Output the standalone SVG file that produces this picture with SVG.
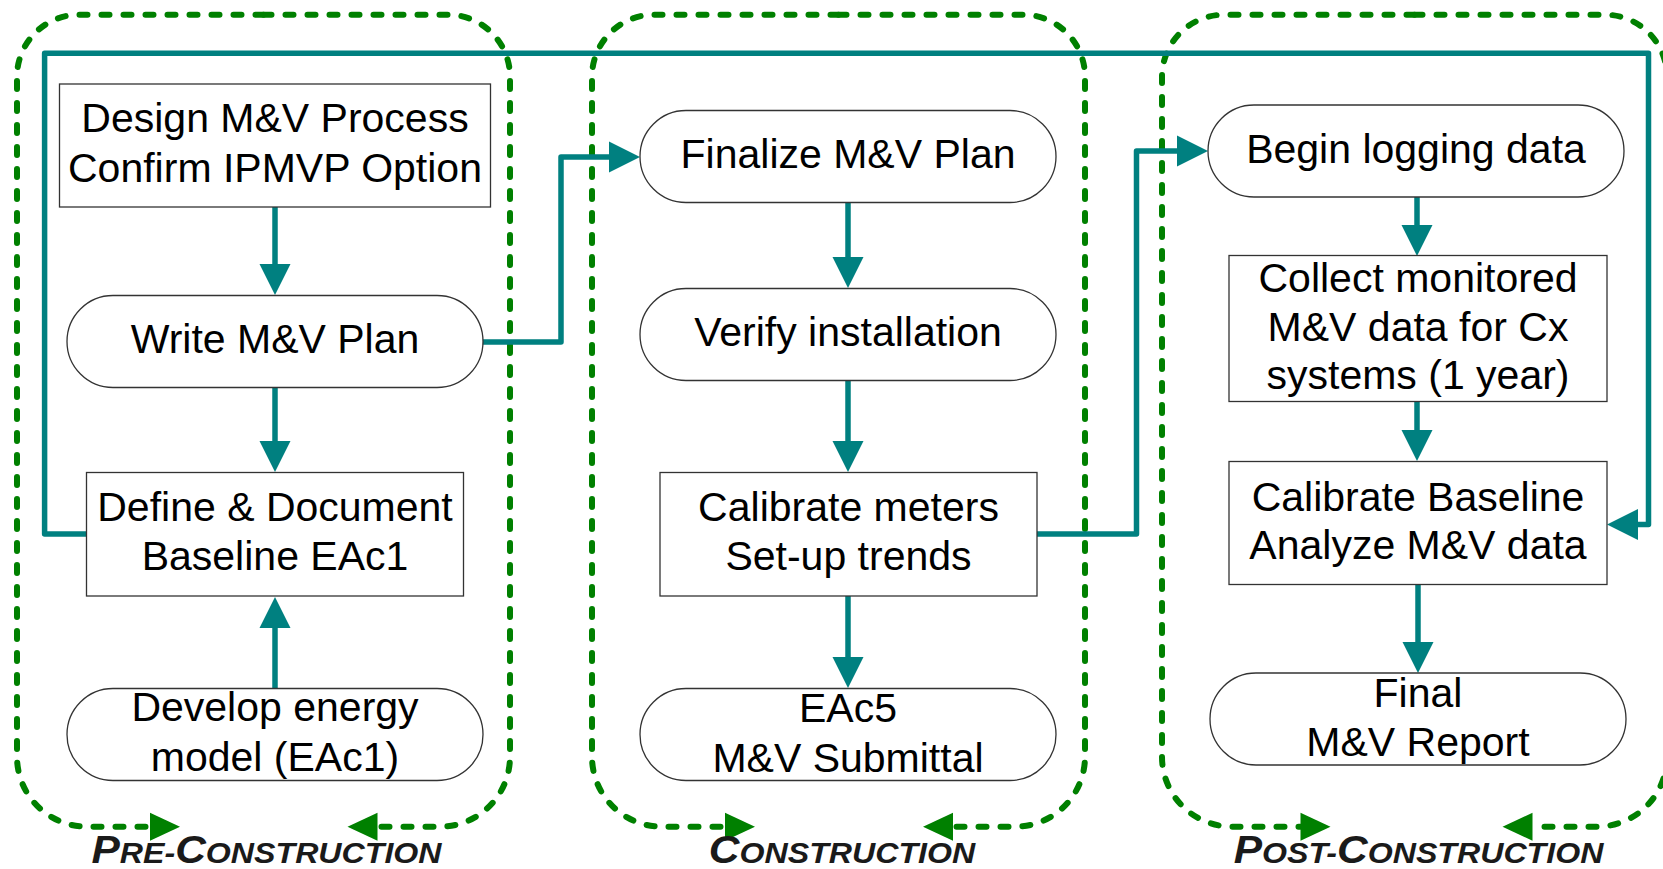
<svg xmlns="http://www.w3.org/2000/svg" width="1663" height="869" viewBox="0 0 1663 869">
<style>
.grp{fill:none;stroke:#008000;stroke-width:6;stroke-dasharray:8 14;stroke-linecap:round}
.con{fill:none;stroke:#008080;stroke-width:5.5;stroke-linejoin:round;stroke-linecap:round;marker-end:url(#ta)}
.box{fill:#fff;stroke:#333;stroke-width:1.3}
.t{font-family:"Liberation Sans",Arial,sans-serif;font-size:41px;fill:#000;text-anchor:middle}
.lbl{font-family:"Liberation Sans",Arial,sans-serif;font-weight:bold;font-style:italic;font-size:29.5px;fill:#1a1a1a;text-anchor:middle}
.big{font-size:39px}
</style>
<defs>
<marker id="ta" markerUnits="userSpaceOnUse" markerWidth="32" markerHeight="32" refX="0" refY="16" orient="auto" overflow="visible">
<path d="M0,0.5 L31,16 L0,31.5 z" fill="#008080"/>
</marker>
<marker id="ga" markerUnits="userSpaceOnUse" markerWidth="31" markerHeight="30" refX="0" refY="15" orient="auto" overflow="visible">
<path d="M0,1 L30,15 L0,29 z" fill="#008000"/>
</marker>
</defs>

<g id="phases">
<g id="pre-construction">
<path class="grp" marker-end="url(#ga)" d="M263.5,14.7 H79 A62,62 0 0 0 17,76.7 V756.7 A70,70 0 0 0 87,826.7 H150"/>
<path class="grp" marker-end="url(#ga)" d="M263.5,14.7 H448 A62,62 0 0 1 510,76.7 V756.7 A70,70 0 0 1 440,826.7 H377.5"/>
<text class="lbl" transform="translate(266.5,862.7) scale(1.09,1)"><tspan class="big">P</tspan>RE-<tspan class="big">C</tspan>ONSTRUCTION</text>
</g>
<g id="construction">
<path class="grp" marker-end="url(#ga)" d="M838.5,14.7 H654 A62,62 0 0 0 592,76.7 V756.7 A70,70 0 0 0 662,826.7 H725"/>
<path class="grp" marker-end="url(#ga)" d="M838.5,14.7 H1023 A62,62 0 0 1 1085,76.7 V756.7 A70,70 0 0 1 1015,826.7 H953"/>
<text class="lbl" transform="translate(842,862.7) scale(1.09,1)"><tspan class="big">C</tspan>ONSTRUCTION</text>
</g>
<g id="post-construction">
<path class="grp" marker-end="url(#ga)" d="M1414.5,14.7 H1224 A62,62 0 0 0 1162,76.7 V756.7 A70,70 0 0 0 1232,826.7 H1300.5"/>
<path class="grp" marker-end="url(#ga)" d="M1414.5,14.7 H1605 A62,62 0 0 1 1667,76.7 V756.7 A70,70 0 0 1 1597,826.7 H1532.5"/>
<text class="lbl" transform="translate(1418.5,862.7) scale(1.09,1)"><tspan class="big">P</tspan>OST-<tspan class="big">C</tspan>ONSTRUCTION</text>
</g>
</g>

<g id="connectors">
<path class="con" d="M275,207 V264"/>
<path class="con" d="M275,388 V441"/>
<path class="con" d="M275,688 V628"/>
<path class="con" d="M483,342 H561 V157 H609"/>
<path class="con" d="M848,203 V257"/>
<path class="con" d="M848,381 V441"/>
<path class="con" d="M848,596 V657"/>
<path class="con" d="M1037,534 H1136.5 V151 H1177"/>
<path class="con" d="M1417,197 V225"/>
<path class="con" d="M1417,402 V430"/>
<path class="con" d="M1418,584 V642"/>
<path class="con" d="M87,534 H44.6 V53.3 H1648.5 V524.5 H1638"/>
</g>

<g id="design-mv-process">
<rect class="box" x="59.5" y="84" width="431" height="123"/>
<text class="t" x="275" y="132.3">Design M&amp;V Process</text>
<text class="t" x="275" y="181.7">Confirm IPMVP Option</text>
</g>
<g id="write-mv-plan">
<rect class="box" x="67" y="295.5" width="416" height="92" rx="46"/>
<text class="t" x="275" y="353.3">Write M&amp;V Plan</text>
</g>
<g id="define-baseline">
<rect class="box" x="86.5" y="472.5" width="377" height="123.5"/>
<text class="t" x="275" y="521">Define &amp; Document</text>
<text class="t" x="275" y="570">Baseline EAc1</text>
</g>
<g id="develop-energy-model">
<rect class="box" x="67" y="688.5" width="416" height="92" rx="46"/>
<text class="t" x="275" y="721">Develop energy</text>
<text class="t" x="275" y="770.7">model (EAc1)</text>
</g>

<g id="finalize-mv-plan">
<rect class="box" x="640" y="110.5" width="416" height="92" rx="46"/>
<text class="t" x="848" y="168.3">Finalize M&amp;V Plan</text>
</g>
<g id="verify-installation">
<rect class="box" x="640" y="288.5" width="416" height="92" rx="46"/>
<text class="t" x="848" y="346">Verify installation</text>
</g>
<g id="calibrate-meters">
<rect class="box" x="660" y="472.5" width="377" height="123.5"/>
<text class="t" x="848.5" y="521">Calibrate meters</text>
<text class="t" x="848.5" y="570">Set-up trends</text>
</g>
<g id="eac5-submittal">
<rect class="box" x="640" y="688.5" width="416" height="92" rx="46"/>
<text class="t" x="848" y="721.7">EAc5</text>
<text class="t" x="848" y="771.7">M&amp;V Submittal</text>
</g>

<g id="begin-logging">
<rect class="box" x="1208" y="105" width="416" height="92" rx="46"/>
<text class="t" x="1416" y="162.7">Begin logging data</text>
</g>
<g id="collect-data">
<rect class="box" x="1229" y="255.5" width="378" height="146"/>
<text class="t" x="1418" y="291.7">Collect monitored</text>
<text class="t" x="1418" y="340.7">M&amp;V data for Cx</text>
<text class="t" x="1418" y="389.3">systems (1 year)</text>
</g>
<g id="calibrate-baseline">
<rect class="box" x="1229" y="461.5" width="378" height="123"/>
<text class="t" x="1418" y="511">Calibrate Baseline</text>
<text class="t" x="1418" y="559.3">Analyze M&amp;V data</text>
</g>
<g id="final-report">
<rect class="box" x="1210" y="673" width="416" height="92" rx="46"/>
<text class="t" x="1418" y="706.7">Final</text>
<text class="t" x="1418" y="756">M&amp;V Report</text>
</g>
</svg>
